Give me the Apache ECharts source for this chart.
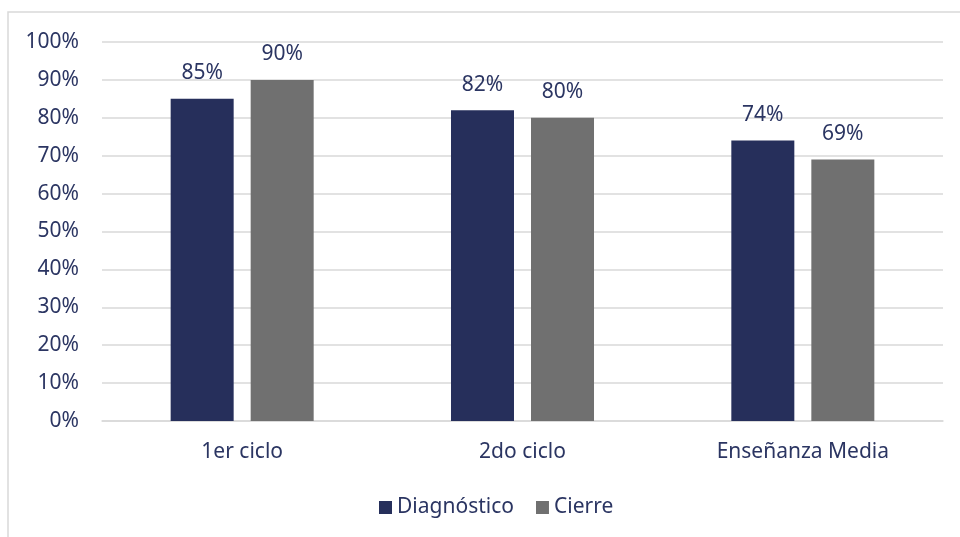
<!DOCTYPE html>
<html>
<head>
<meta charset="utf-8">
<script src="https://cdn.jsdelivr.net/npm/echarts@6/dist/echarts.min.js"></script>
<style>
html,body{margin:0;padding:0;background:#fff;}
#c{width:960px;height:537px;}
</style>
</head>
<body>
<div id="c"></div>
<script>
var categories = ['1er ciclo', '2do ciclo', 'Enseñanza Media'];
var diagnostico = [85, 82, 74];
var cierre = [90, 80, 69];
var seriesNames = ['Diagnóstico', 'Cierre'];

var textColor = '#2B3562';
var fontFam = '"Noto Sans", sans-serif';
var fs = 21;
var chart = echarts.init(document.getElementById('c'), null, {renderer: 'canvas'});
var labelCfg = {
  show: true, position: 'top', distance: 15,
  color: textColor, fontSize: fs, fontFamily: fontFam,
  formatter: function (p) { return p.value + '%'; }
};
chart.setOption({
  animation: false,
  backgroundColor: '#fff',
  graphic: [{
    type: 'rect', z: -1,
    shape: {x: 8, y: 12, width: 1000, height: 600},
    style: {fill: 'none', stroke: '#D9D9D9', lineWidth: 1.5}
  }],
  grid: {left: 102, right: 17, top: 42, bottom: 116},
  legend: {
    data: seriesNames,
    left: 379, top: 497, padding: 0,
    icon: 'rect', itemWidth: 13, itemHeight: 13, itemGap: 22,
    textStyle: {color: textColor, fontSize: fs, fontFamily: fontFam, padding: [0, 0, 0, 0]}
  },
  xAxis: {
    type: 'category', data: categories,
    axisLine: {lineStyle: {color: '#D9D9D9', width: 1.5}},
    axisTick: {show: false},
    axisLabel: {color: textColor, fontSize: fs, fontFamily: fontFam, margin: 21}
  },
  yAxis: {
    type: 'value', min: 0, max: 100, interval: 10,
    axisLine: {show: false}, axisTick: {show: false},
    splitLine: {lineStyle: {color: '#D9D9D9', width: 1.5}},
    axisLabel: {color: textColor, fontSize: fs, fontFamily: fontFam, margin: 23,
      formatter: function (v) { return v + '%'; }}
  },
  series: [
    {name: seriesNames[0], type: 'bar', data: diagnostico, barWidth: 63, barGap: '27%',
      itemStyle: {color: '#262F5B'}, label: labelCfg},
    {name: seriesNames[1], type: 'bar', data: cierre, barWidth: 63, barGap: '27%',
      itemStyle: {color: '#707070'}, label: labelCfg}
  ]
});
</script>
</body>
</html>
